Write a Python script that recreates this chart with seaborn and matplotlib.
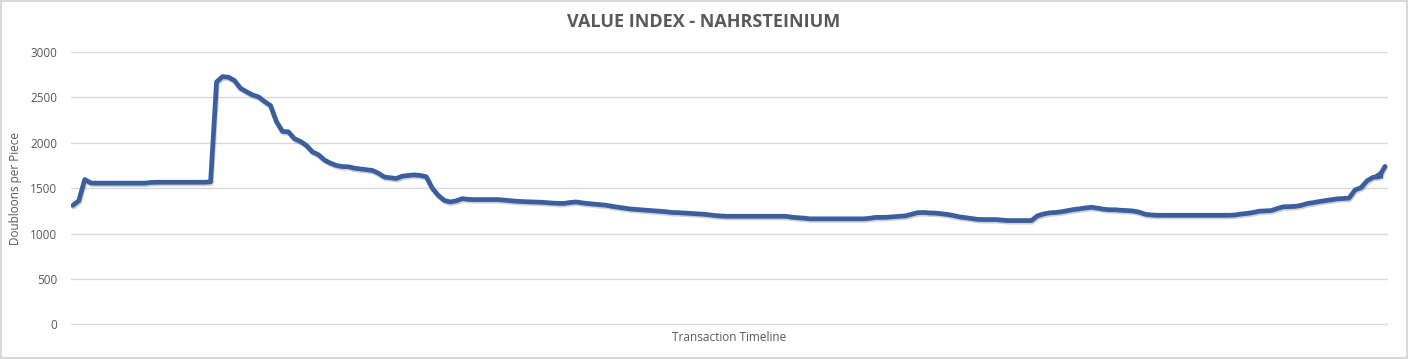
import numpy as np
import pandas as pd
import seaborn as sns
import matplotlib.pyplot as plt
import matplotlib.patheffects as pe

# price per piece, one value per transaction
doubloons = [
    1310, 1360, 1595, 1557, 1555, 1555, 1555, 1555, 1555, 1555,
    1555, 1555, 1555, 1562, 1565, 1565, 1565, 1565, 1565, 1565,
    1565, 1565, 1565, 1570, 2670, 2729, 2722, 2685, 2600, 2562,
    2527, 2505, 2455, 2410, 2232, 2125, 2120, 2044, 2015, 1970,
    1900, 1868, 1810, 1775, 1750, 1738, 1736, 1720, 1712, 1705,
    1695, 1665, 1623, 1615, 1606, 1632, 1640, 1646, 1640, 1625,
    1500, 1420, 1365, 1348, 1360, 1385, 1376, 1374, 1374, 1374,
    1374, 1374, 1368, 1362, 1356, 1352, 1350, 1348, 1345, 1340,
    1336, 1332, 1332, 1342, 1348, 1338, 1330, 1324, 1319, 1312,
    1300, 1290, 1280, 1271, 1266, 1260, 1255, 1250, 1245, 1240,
    1232, 1230, 1226, 1222, 1218, 1214, 1208, 1200, 1194, 1190,
    1190, 1190, 1190, 1190, 1190, 1190, 1190, 1190, 1190, 1190,
    1180, 1174, 1170, 1162, 1162, 1162, 1162, 1162, 1162, 1162,
    1162, 1162, 1162, 1168, 1178, 1178, 1180, 1185, 1190, 1195,
    1212, 1230, 1232, 1227, 1225, 1218, 1210, 1198, 1183, 1175,
    1165, 1156, 1154, 1154, 1154, 1148, 1143, 1143, 1143, 1143,
    1143, 1195, 1215, 1228, 1232, 1240, 1252, 1264, 1272, 1282,
    1289, 1280, 1268, 1262, 1262, 1256, 1253, 1248, 1235, 1212,
    1205, 1201, 1201, 1201, 1201, 1201, 1201, 1201, 1201, 1201,
    1201, 1201, 1201, 1201, 1205, 1215, 1222, 1232, 1246, 1250,
    1253, 1275, 1294, 1296, 1299, 1310, 1330, 1340, 1352, 1362,
    1372, 1382, 1386, 1390, 1480, 1505, 1580, 1620, 1625, 1740,
]
y_ticks = [0, 500, 1000, 1500, 2000, 2500, 3000]

LINE = '#3A5E9E'
GREY = '#595959'

df = pd.DataFrame({'transaction': range(len(doubloons)), 'price': doubloons})

sns.set_style('white')
plt.rcParams['font.family'] = ['Open Sans', 'DejaVu Sans']

fig = plt.figure(figsize=(14.08, 3.59), dpi=100)
fig.patch.set_edgecolor('#D9D9D9')
fig.patch.set_linewidth(1.5)
ax = fig.add_axes([0.0504, 0.0947, 0.9354, 0.7604])

sns.lineplot(data=df, x='transaction', y='price', ax=ax, color=LINE,
             linewidth=3.4, zorder=3,
             path_effects=[pe.SimpleLineShadow(offset=(0.6, -1.2), alpha=0.18),
                           pe.Normal()])
# arrow head on the last segment
ax.annotate('', xy=(len(doubloons) - 1, doubloons[-1]),
            xytext=(len(doubloons) - 2, doubloons[-2]),
            arrowprops=dict(arrowstyle='-|>', color=LINE, lw=0,
                            mutation_scale=17), zorder=4)

ax.set_xlim(-0.3, len(doubloons) - 0.5)
ax.set_ylim(-8, 3000)
ax.set_yticks(y_ticks)
ax.set_xticks([])
ax.yaxis.grid(True, color='#D9D9D9', linewidth=1)
for s in ax.spines.values():
    s.set_visible(False)
ax.tick_params(axis='y', length=0, pad=10, labelsize=8.5, labelcolor=GREY)

ax.set_xlabel('Transaction Timeline', fontsize=8.5, color=GREY, labelpad=4)
ax.set_ylabel('Doubloons per Piece', fontsize=8.5, color=GREY, labelpad=6)
fig.text(0.5, 0.94, 'VALUE INDEX - NAHRSTEINIUM', ha='center', va='center',
         fontsize=13, fontweight='bold', color=GREY)

fig.savefig('out.png', dpi=100, edgecolor=fig.get_edgecolor())
